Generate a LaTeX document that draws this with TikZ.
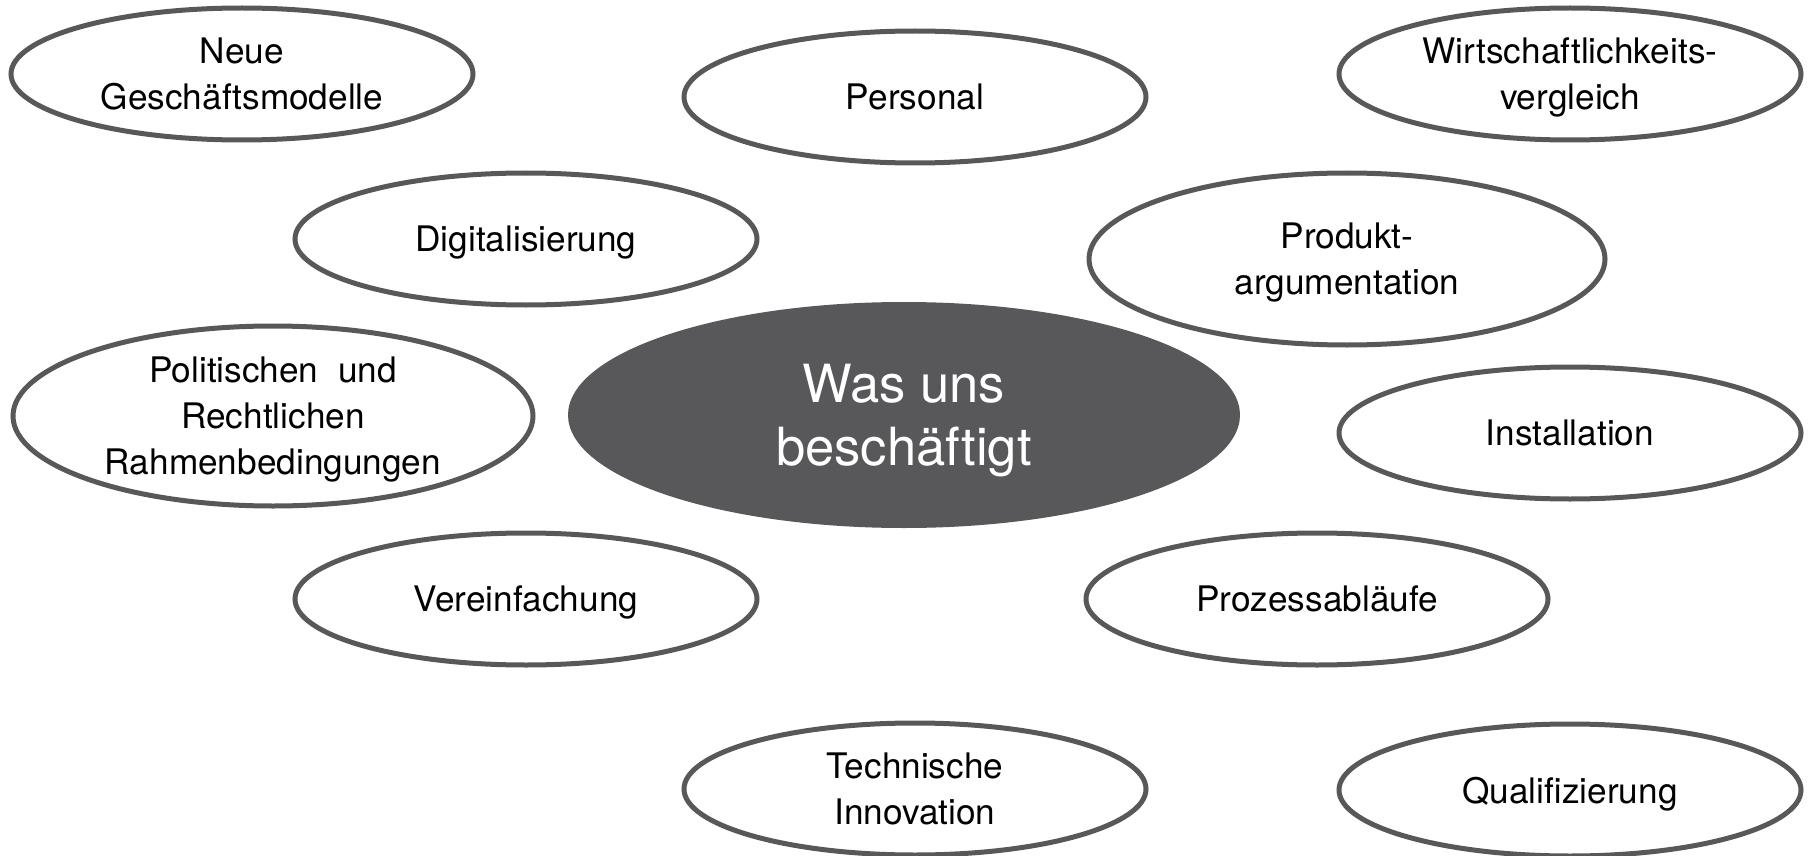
\documentclass[tikz,border=0pt]{standalone}
\usepackage{fontspec}
\setmainfont{TeX Gyre Heros}
\usetikzlibrary{shapes.geometric}
\definecolor{rimgray}{RGB}{88,88,88}
\definecolor{coregray}{RGB}{88,88,90}
\tikzset{
  topic/.style={ellipse,draw=rimgray,line width=2.5pt,fill=white,inner sep=0pt,
    minimum width=231pt,minimum height=66pt,align=center,text depth=0pt,
    font=\fontsize{17.6}{23}\selectfont},
  bigtopic/.style={topic,minimum width=258pt,minimum height=86pt},
  core/.style={ellipse,fill=coregray,inner sep=0pt,minimum width=336pt,minimum height=113pt,
    align=center,text=white,text depth=-1.5pt,font=\fontsize{26.3}{31.5}\selectfont}
}
\begin{document}
\begin{tikzpicture}[x=0.5pt,y=0.5pt,yscale=-1,xscale=1]
\useasboundingbox (0,0) rectangle (1816,856);

%Shape: Ellipse [center]
\node[core] (was) at (904,415) {Was uns\\besch\"aftigt};

%Shape: Ellipse [top row]
\node[topic] (neue) at (242,74) {Neue\\Gesch\"aftsmodelle};
\node[topic] (personal) at (915,97) {Personal};
\node[topic] (wirtschaft) at (1570,74) {Wirtschaftlichkeits-\\vergleich};

%Shape: Ellipse [second row]
\node[topic] (digital) at (526,239) {Digitalisierung};
\node[bigtopic] (produkt) at (1347,259) {Produkt-\\argumentation};

%Shape: Ellipse [middle row]
\node[bigtopic,minimum width=260pt,minimum height=90pt] (politik) at (273,416) {Politischen~ und\\Rechtlichen\\Rahmenbedingungen};
\node[topic] (install) at (1570,433) {Installation};

%Shape: Ellipse [fourth row]
\node[topic] (verein) at (526,599) {Vereinfachung};
\node[topic] (prozess) at (1317,599) {Prozessabl\"aufe};

%Shape: Ellipse [bottom row]
\node[topic] (technik) at (915,789) {Technische\\Innovation};
\node[topic] (quali) at (1570,790) {Qualifizierung};

\end{tikzpicture}
\end{document}
